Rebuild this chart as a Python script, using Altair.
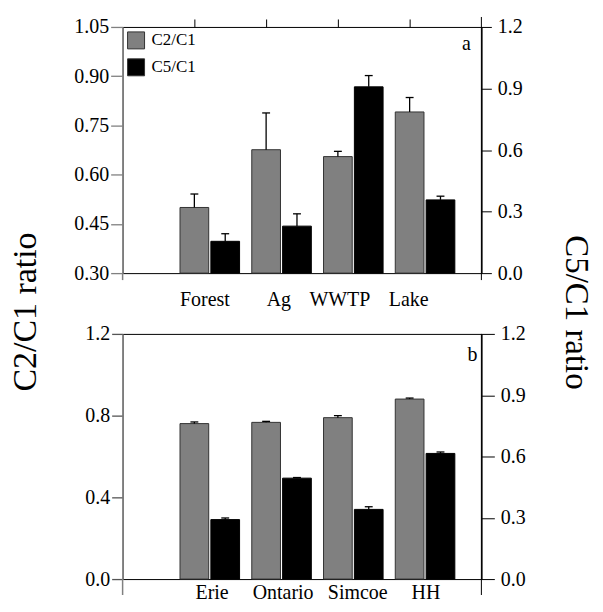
import altair as alt
import pandas as pd

# ---- data ----
sites_a = ["Forest", "Ag", "WWTP", "Lake"]
c2c1_a = [0.500, 0.676, 0.655, 0.791]
c2c1_a_err = [0.041, 0.112, 0.016, 0.044]
c5c1_a = [0.155, 0.229, 0.908, 0.357]
c5c1_a_err = [0.037, 0.060, 0.055, 0.018]

sites_b = ["Erie", "Ontario", "Simcoe", "HH"]
c2c1_b = [0.761, 0.767, 0.790, 0.881]
c2c1_b_err = [0.008, 0.005, 0.010, 0.005]
c5c1_b = [0.291, 0.494, 0.341, 0.615]
c5c1_b_err = [0.008, 0.003, 0.013, 0.007]

left_ticks_a = [0.30, 0.45, 0.60, 0.75, 0.90, 1.05]
left_ticks_b = [0.0, 0.4, 0.8, 1.2]
right_ticks = [0.0, 0.3, 0.6, 0.9, 1.2]
series_names = ["C2/C1", "C5/C1"]

FONT = "Liberation Serif"
GRAY = "#808080"
W = 360


def label_expr(sites):
    expr = "''"
    for i in reversed(range(len(sites))):
        expr = f"datum.value < {i + 1.5} ? '{sites[i]}' : " + expr
    return expr


def panel(sites, g, ge, k, ke, gdom, gticks, gfmt, letter, letter_xy, H,
          label_pos, label_pad, left_tick, left_tick_color, right_tick, legend, top_tick_size,
          right_ext_top, left_ext, extra=None):
    n = len(sites)
    pos = list(range(1, n + 1))
    dg = pd.DataFrame({"site": sites, "pos": pos, "val": g, "err": ge, "series": series_names[0]})
    dk = pd.DataFrame({"site": sites, "pos": pos, "val": k, "err": ke, "series": series_names[1]})
    xs = alt.Scale(domain=[0, 5], nice=False, zero=False)
    ys_g = alt.Scale(domain=gdom, nice=False, zero=False)
    ys_k = alt.Scale(domain=[0, 1.2], nice=False, zero=False)
    cs = alt.Scale(domain=series_names, range=[GRAY, "#000000"])

    x_bottom = alt.Axis(orient="bottom", values=label_pos, labelExpr=label_expr(sites),
                        ticks=False, domain=False, grid=False, title=None,
                        labelFontSize=20, labelFont=FONT, labelColor="black",
                        labelPadding=label_pad, labelOverlap=False, labelFlush=False)
    x_top = alt.Axis(orient="top", values=[1, 2, 3, 4], labels=False,
                     ticks=top_tick_size > 0, tickSize=max(top_tick_size, 1),
                     tickColor="black", domain=False, grid=False, title=None)
    y_left = alt.Axis(orient="left", values=gticks, format=gfmt, domainColor=GRAY,
                      domainWidth=1.5, tickColor=left_tick_color, tickWidth=1.3,
                      tickSize=left_tick,
                      labelPadding=2, labelFontSize=20, labelFont=FONT, labelColor="black",
                      grid=False, title=None, labelFlush=False, labelOverlap=False)
    y_right = alt.Axis(orient="right", values=right_ticks, format=".1f", domainColor="black",
                       domainWidth=1, tickColor="black", tickSize=right_tick,
                       labelPadding=6, labelFontSize=20, labelFont=FONT, labelColor="black",
                       grid=False, title=None, labelFlush=False, labelOverlap=False)

    def group(df, off, ys, yaxis, xaxis, base, stroke):
        b = alt.Chart(df).transform_calculate(
            x1=f"datum.pos + {off}", x2=f"datum.pos + {off} + 0.4",
            xc=f"datum.pos + {off} + 0.2",
            c1=f"datum.pos + {off} + 0.145", c2=f"datum.pos + {off} + 0.255",
            hi="datum.val + datum.err", base=f"{base}")
        bar = b.mark_bar(stroke=stroke, strokeWidth=1, opacity=1).encode(
            x=alt.X("x1:Q", scale=xs, axis=xaxis), x2="x2:Q",
            y=alt.Y("val:Q", scale=ys, axis=yaxis), y2="base:Q",
            color=alt.Color("series:N", scale=cs, legend=legend))
        err = b.mark_rule(color="black", strokeWidth=1.3).encode(
            x=alt.X("xc:Q", scale=xs, axis=None),
            y=alt.Y("val:Q", scale=ys, axis=None), y2="hi:Q")
        cap = b.mark_rule(color="black", strokeWidth=1.3).encode(
            x=alt.X("c1:Q", scale=xs, axis=None), x2="c2:Q",
            y=alt.Y("hi:Q", scale=ys, axis=None))
        return [bar, err, cap]

    gray = group(dg, -0.2, ys_g, y_left, x_bottom, gdom[0], "#333333")
    black = group(dk, 0.23, ys_k, y_right, x_top, 0, "#000000")

    deco = alt.Chart(pd.DataFrame({"d": [0]}))
    letter_mark = deco.mark_text(text=letter, fontSize=20, font=FONT, align="center",
                                 baseline="alphabetic", color="black").encode(
        x=alt.value(letter_xy[0]), y=alt.value(letter_xy[1]))
    lext = deco.mark_rule(color=GRAY, strokeWidth=1.5).encode(
        x=alt.value(0), y=alt.value(H), y2=alt.value(H + left_ext))
    rext = deco.mark_rule(color="black", strokeWidth=1).encode(
        x=alt.value(W), y=alt.value(-right_ext_top), y2=alt.value(H + left_ext))
    layers = gray + black + [letter_mark, lext, rext]
    if extra:
        layers += extra
    return alt.layer(*layers).resolve_scale(y="independent").properties(width=W, height=H)


deco0 = alt.Chart(pd.DataFrame({"d": [0]}))
ttl_left = deco0.mark_text(text="C2/C1 ratio", angle=270, fontSize=34, font=FONT,
                           align="center", baseline="alphabetic", color="black").encode(
    x=alt.value(-86.5), y=alt.value(286))
ttl_right = deco0.mark_text(text="C5/C1 ratio", angle=90, fontSize=33, font=FONT,
                            align="center", baseline="alphabetic", color="black").encode(
    x=alt.value(444.5), y=alt.value(286.5))
# invisible frame fixing the chart's outer extent (top-left corner and width)
frame = deco0.mark_rule(color="white", strokeOpacity=0, strokeWidth=1).encode(
    x=alt.value(-113.7), x2=alt.value(473), y=alt.value(-17))

legend_a = alt.Legend(orient="top-left", title=None, symbolType="square", symbolSize=290,
                      symbolStrokeColor="#333333", symbolStrokeWidth=1, symbolOpacity=1,
                      labelFontSize=17, labelFont=FONT, labelColor="black", offset=4,
                      padding=0, rowPadding=4, labelOffset=6)

pa = panel(sites_a, c2c1_a, c2c1_a_err, c5c1_a, c5c1_a_err, [0.30, 1.05], left_ticks_a, ".2f",
           "a", (345, 23), 247, [1.14, 2.17, 3.02, 3.98], 17, 12, GRAY, 10, legend_a, 8,
           10, 7, extra=[ttl_left, ttl_right, frame])
pb = panel(sites_b, c2c1_b, c2c1_b_err, c5c1_b, c5c1_b_err, [0.0, 1.2], left_ticks_b, ".1f",
           "b", (351, 27), 246, [1.24, 2.23, 3.27, 4.22], 3, 11, "#555555", 13, None, 0,
           0, 16)

chart = alt.vconcat(pa, pb, spacing=61).properties(
    bounds="flush",
    padding={"left": 0, "top": 0, "right": 0, "bottom": 0},
).resolve_scale(color="independent").configure(font=FONT).configure_view(
    stroke="black", strokeWidth=1)

chart.save("out.html", embed_options={"renderer": "svg", "actions": False})
